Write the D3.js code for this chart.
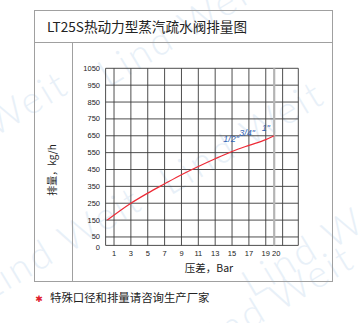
<!DOCTYPE html>
<html>
<head>
<meta charset="utf-8">
<script src="https://cdn.jsdelivr.net/npm/d3@7.9.0/dist/d3.min.js"></script>
<style>
  body { margin: 0; background: #fff; }
  svg { display: block; }
  .cjk { font-family: "Noto Sans CJK SC", "Noto Sans", sans-serif; }
  .tick { font-family: "Liberation Sans Narrow", "Arial Narrow", "Liberation Sans", sans-serif; font-size: 7.5px; fill: #222; }
</style>
</head>
<body>
<div id="chart"></div>
<script>
// data
const title = "LT25S热动力型蒸汽疏水阀排量图";
const yLabel = "排量，kg/h";
const xLabel = "压差，Bar";
const note = "特殊口径和排量请咨询生产厂家";

const pressure = [0.2, 3, 5, 7, 9, 11, 13, 15, 17, 19, 20];
const capacity = [150, 250, 310, 365, 419, 468, 514, 557, 593, 627, 650];

const xTickLabels = [1, 3, 5, 7, 9, 11, 13, 15, 17, 19, 20];
const xGridValues = [1, 3, 5, 7, 9, 11, 13, 15, 17, 19, 21];
const yTickLabels = [0, 50, 150, 250, 350, 450, 550, 650, 750, 850, 950, 1050];

const sizeNames = ['1/2"', '3/4"', '1"'];
const sizeX = [14.9, 16.8, 19.0];
const sizeY = [612, 648, 680];

const W = 359, H = 323;
const svg = d3.select("#chart").append("svg")
    .attr("width", W)
    .attr("height", H);

svg.append("rect").attr("width", W).attr("height", H).attr("fill", "#fff");

// faint watermark
const marks = [[108, 88], [-86, 186], [-12, 302], [170, 196], [252, 298], [200, 360]];
svg.append("g").selectAll("text")
    .data(marks)
    .enter()
    .append("text")
    .attr("transform", d => `translate(${d[0]},${d[1]}) rotate(-31)`)
    .style("font-family", "Lato, 'Liberation Sans', sans-serif")
    .style("font-size", "38px")
    .style("font-weight", 300)
    .style("letter-spacing", "3px")
    .attr("fill", "#e8f0f8")
    .text("Lind Weit");

// outer frame
const frame = svg.append("g").attr("stroke", "#a0a0a0").attr("stroke-width", 1).attr("fill", "none");
frame.append("rect").attr("x", 34.5).attr("y", 10.5).attr("width", 298).attr("height", 271);
frame.append("line").attr("x1", 34.5).attr("x2", 332.5).attr("y1", 42.5).attr("y2", 42.5);
frame.append("line").attr("x1", 72.5).attr("x2", 72.5).attr("y1", 42.5).attr("y2", 281.5);

svg.append("text")
    .attr("class", "cjk")
    .attr("x", 47)
    .attr("y", 32)
    .style("font-size", "13.6px")
    .attr("fill", "#222")
    .text(title);

// plot
const x = d3.scaleLinear().domain([0, 22.86]).range([105.6, 298.3]);
const y = d3.scaleLinear().domain([0, 1050]).range([245.4, 68.3]);

const grid = svg.append("g").attr("stroke", "#3a3a3a").attr("stroke-width", 0.9);
grid.selectAll(".h")
    .data(yTickLabels)
    .enter()
    .append("line")
    .attr("x1", x(0)).attr("x2", x(22.86))
    .attr("y1", d => y(d)).attr("y2", d => y(d));
grid.selectAll(".v")
    .data(xGridValues)
    .enter()
    .append("line")
    .attr("x1", d => x(d)).attr("x2", d => x(d))
    .attr("y1", y(0)).attr("y2", y(1050));
grid.append("line")
    .attr("x1", x(0)).attr("x2", x(0))
    .attr("y1", y(0)).attr("y2", y(1050));
grid.append("line")
    .attr("x1", x(22.86)).attr("x2", x(22.86))
    .attr("y1", y(0)).attr("y2", y(1050));
// the 20 bar line is a thick grey one
svg.append("line")
    .attr("x1", x(20)).attr("x2", x(20))
    .attr("y1", y(0)).attr("y2", y(1050))
    .attr("stroke", "#b4b4b4")
    .attr("stroke-width", 2.2);

svg.append("g").selectAll("text")
    .data(yTickLabels)
    .enter()
    .append("text")
    .attr("class", "tick")
    .attr("x", 100)
    .attr("y", d => y(d) + (d === 0 ? 4.8 : 2.5))
    .attr("text-anchor", "end")
    .text(d => d);

svg.append("g").selectAll("text")
    .data(xTickLabels)
    .enter()
    .append("text")
    .attr("class", "tick")
    .attr("x", d => x(d) + (d === 20 ? 2 : 0))
    .attr("y", 255.5)
    .attr("text-anchor", "middle")
    .text(d => d);

// curve
const pts = pressure.map((p, i) => [p, capacity[i]]);
const line = d3.line()
    .x(d => x(d[0]))
    .y(d => y(d[1]))
    .curve(d3.curveMonotoneX);
svg.append("path")
    .datum(pts)
    .attr("d", line)
    .attr("fill", "none")
    .attr("stroke", "#ee2a36")
    .attr("stroke-width", 1.2);

svg.append("g").selectAll("text")
    .data(sizeNames)
    .enter()
    .append("text")
    .attr("x", (d, i) => x(sizeX[i]))
    .attr("y", (d, i) => y(sizeY[i]))
    .attr("text-anchor", "middle")
    .style("font-family", "'Liberation Sans Narrow', 'Liberation Sans', sans-serif")
    .style("font-size", "9px")
    .style("font-style", "italic")
    .attr("fill", "#2f62b4")
    .text(d => d);

// axis titles
svg.append("text")
    .attr("class", "cjk")
    .attr("transform", "translate(55.5,170) rotate(-90)")
    .attr("text-anchor", "middle")
    .style("font-size", "10px")
    .attr("fill", "#222")
    .text(yLabel);

svg.append("text")
    .attr("class", "cjk")
    .attr("x", 209)
    .attr("y", 272)
    .attr("text-anchor", "middle")
    .style("font-size", "10.5px")
    .attr("fill", "#222")
    .text(xLabel);

// footnote
svg.append("text")
    .attr("x", 39)
    .attr("y", 302)
    .attr("text-anchor", "middle")
    .style("font-family", "'DejaVu Sans', sans-serif")
    .style("font-size", "9px")
    .attr("fill", "#e0202c")
    .text("✱");

svg.append("text")
    .attr("class", "cjk")
    .attr("x", 50)
    .attr("y", 302)
    .style("font-size", "11.4px")
    .attr("fill", "#222")
    .text(note);
</script>
</body>
</html>
